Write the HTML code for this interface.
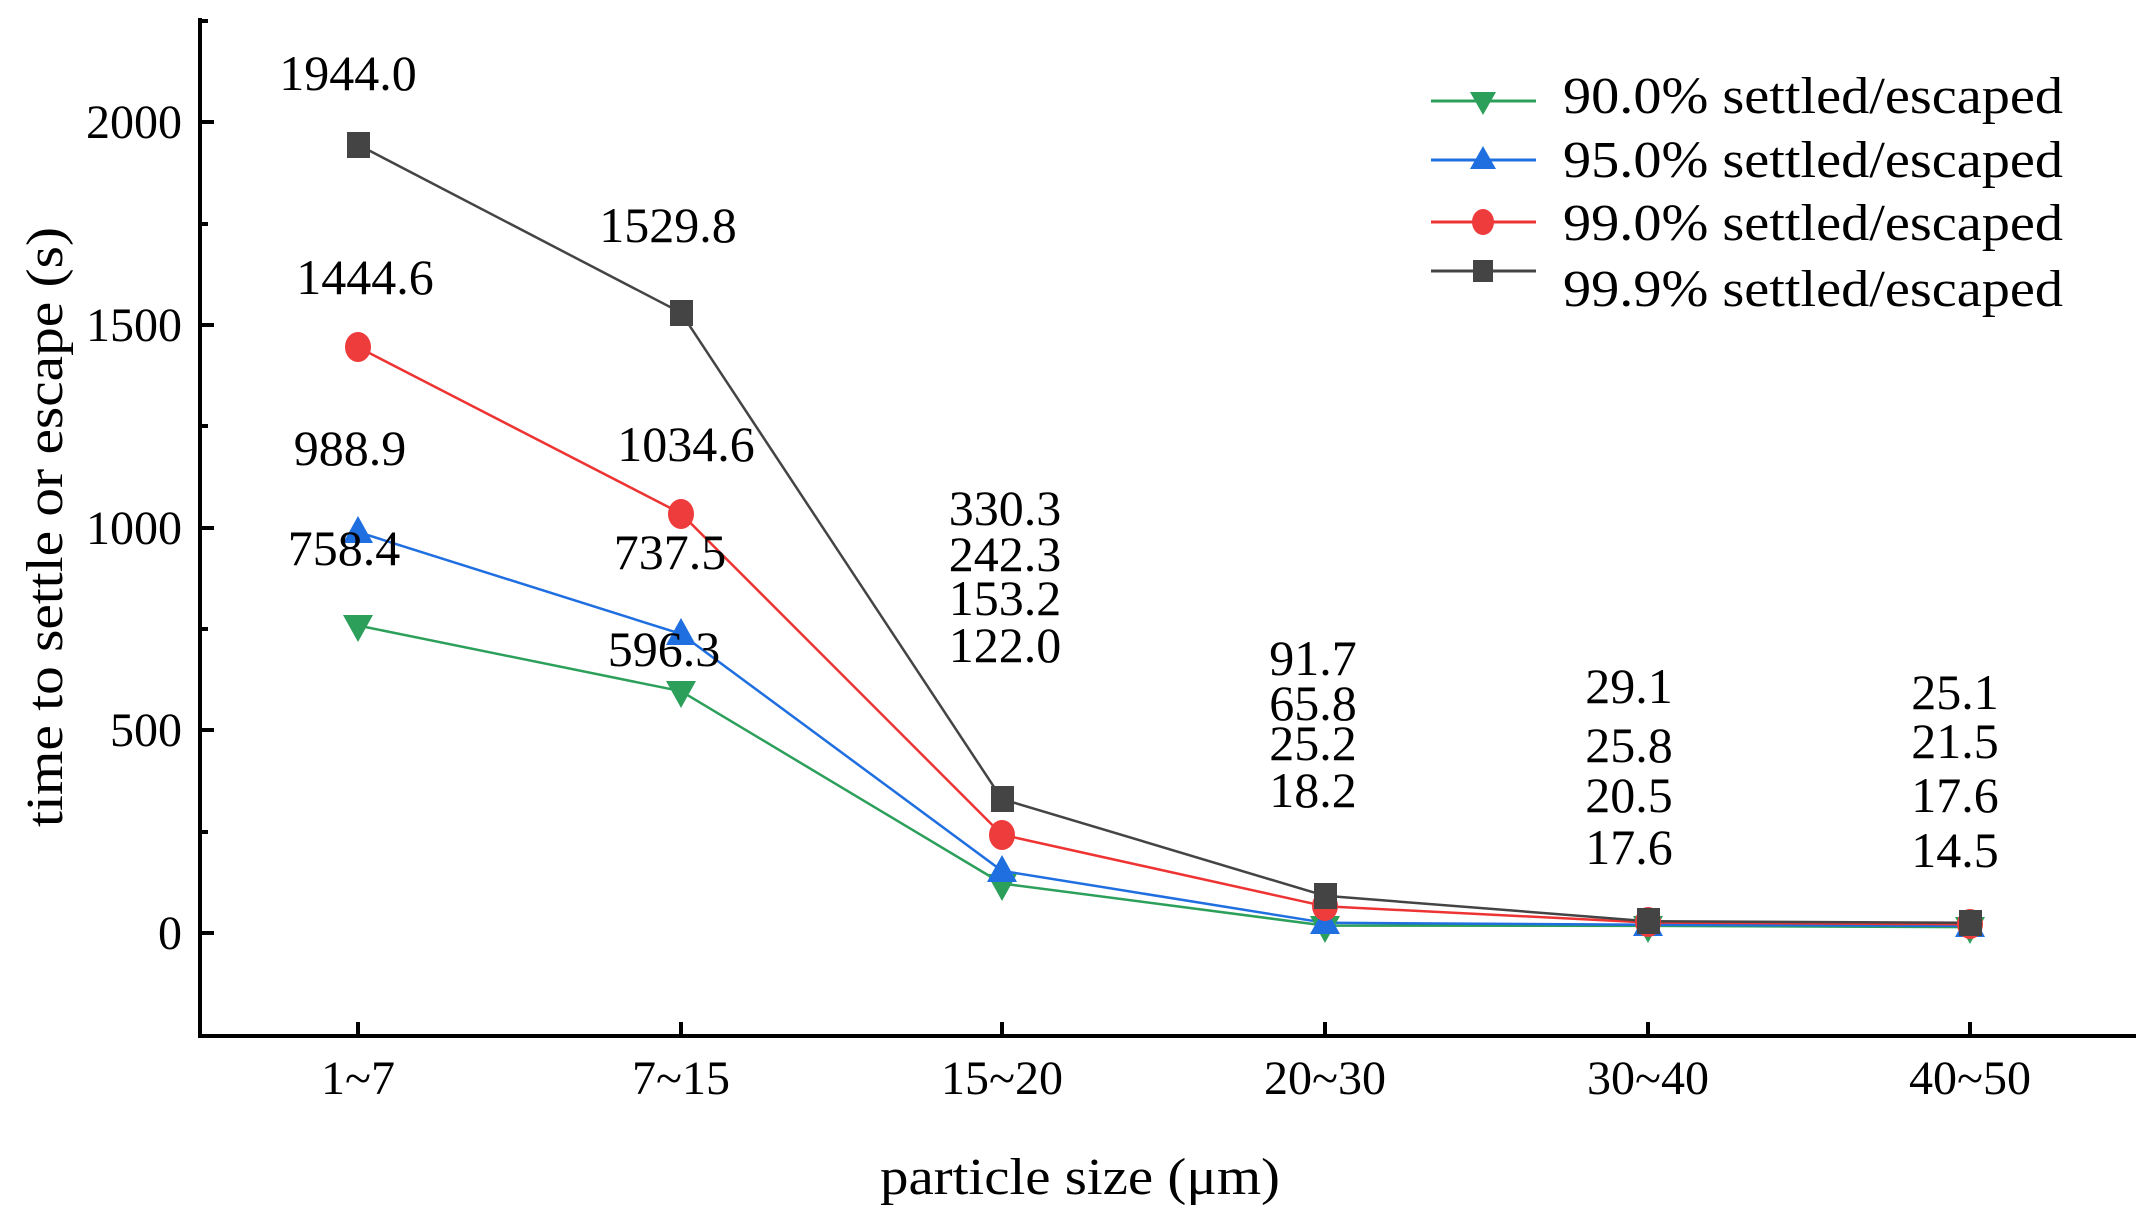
<!DOCTYPE html>
<html><head><meta charset="utf-8"><style>
html,body{margin:0;padding:0;background:#fff;}
svg{display:block;font-family:"Liberation Serif",serif;}
</style></head><body>
<svg width="2136" height="1216" viewBox="0 0 2136 1216" xmlns="http://www.w3.org/2000/svg">
<line x1="200" y1="18" x2="200" y2="1036" stroke="#000" stroke-width="4"/>
<line x1="198" y1="1036" x2="2136" y2="1036" stroke="#000" stroke-width="4"/>
<g stroke="#000" stroke-width="4">
<line x1="200" y1="933" x2="214" y2="933"/>
<line x1="200" y1="730" x2="214" y2="730"/>
<line x1="200" y1="528" x2="214" y2="528"/>
<line x1="200" y1="325" x2="214" y2="325"/>
<line x1="200" y1="122" x2="214" y2="122"/>
<line x1="200" y1="832" x2="208" y2="832"/>
<line x1="200" y1="629" x2="208" y2="629"/>
<line x1="200" y1="426" x2="208" y2="426"/>
<line x1="200" y1="224" x2="208" y2="224"/>
<line x1="200" y1="21" x2="208" y2="21"/>
</g>
<g stroke="#000" stroke-width="4">
<line x1="358" y1="1036" x2="358" y2="1022"/>
<line x1="681" y1="1036" x2="681" y2="1022"/>
<line x1="1002" y1="1036" x2="1002" y2="1022"/>
<line x1="1325" y1="1036" x2="1325" y2="1022"/>
<line x1="1648" y1="1036" x2="1648" y2="1022"/>
<line x1="1970" y1="1036" x2="1970" y2="1022"/>
</g>
<g font-size="48" text-anchor="end" fill="#000">
<text x="182" y="949">0</text>
<text x="182" y="746">500</text>
<text x="182" y="544">1000</text>
<text x="182" y="341">1500</text>
<text x="182" y="138">2000</text>
</g>
<g font-size="48" text-anchor="middle" fill="#000">
<text x="358" y="1094">1~7</text>
<text x="681" y="1094">7~15</text>
<text x="1002" y="1094">15~20</text>
<text x="1325" y="1094">20~30</text>
<text x="1648" y="1094">30~40</text>
<text x="1970" y="1094">40~50</text>
</g>
<text x="1080" y="1194" font-size="52" text-anchor="middle" textLength="400" lengthAdjust="spacingAndGlyphs">particle size (μm)</text>
<text transform="translate(62,527) rotate(-90)" font-size="52" text-anchor="middle" textLength="600" lengthAdjust="spacingAndGlyphs">time to settle or escape (s)</text>

<polyline fill="none" stroke="#2ca05a" stroke-width="2.5" points="358,625.5 681,691.2 1002,883.5 1325,925.6 1648,925.9 1970,927.1"/>
<polyline fill="none" stroke="#1f6fe0" stroke-width="2.5" points="358,532.0 681,633.9 1002,870.9 1325,922.8 1648,924.7 1970,925.9"/>
<polyline fill="none" stroke="#ee3333" stroke-width="2.5" points="358,347.2 681,513.5 1002,834.7 1325,906.3 1648,922.5 1970,924.3"/>
<polyline fill="none" stroke="#444" stroke-width="2.5" points="358,144.7 681,312.7 1002,799.1 1325,895.8 1648,921.2 1970,922.8"/>
<g fill="#2ca05a">
<polygon points="343,615 373,615 358,642"/>
<polygon points="666,681 696,681 681,708"/>
<polygon points="987,874 1017,874 1002,901"/>
<polygon points="1310,916 1340,916 1325,943"/>
<polygon points="1633,916 1663,916 1648,943"/>
<polygon points="1955,917 1985,917 1970,944"/>
</g>
<g fill="#1f6fe0">
<polygon points="343,543 373,543 358,516"/>
<polygon points="666,645 696,645 681,618"/>
<polygon points="987,882 1017,882 1002,855"/>
<polygon points="1310,934 1340,934 1325,907"/>
<polygon points="1633,936 1663,936 1648,909"/>
<polygon points="1955,937 1985,937 1970,910"/>
</g>
<g fill="#ee3b3b">
<ellipse cx="358" cy="347" rx="13" ry="15"/>
<ellipse cx="681" cy="514" rx="13" ry="15"/>
<ellipse cx="1002" cy="835" rx="13" ry="15"/>
<ellipse cx="1325" cy="906" rx="13" ry="15"/>
<ellipse cx="1648" cy="922" rx="13" ry="15"/>
<ellipse cx="1970" cy="924" rx="13" ry="15"/>
</g>
<g fill="#444">
<rect x="347" y="132" width="23" height="26"/>
<rect x="670" y="300" width="23" height="26"/>
<rect x="991" y="786" width="23" height="26"/>
<rect x="1314" y="883" width="23" height="26"/>
<rect x="1637" y="908" width="23" height="26"/>
<rect x="1959" y="910" width="23" height="26"/>
</g>

<g font-size="50" text-anchor="middle" fill="#000">
<text x="348" y="90">1944.0</text>
<text x="365" y="294">1444.6</text>
<text x="350" y="465">988.9</text>
<text x="344" y="565">758.4</text>
<text x="668" y="242">1529.8</text>
<text x="686" y="461">1034.6</text>
<text x="670" y="569">737.5</text>
<text x="664" y="666">596.3</text>
<text x="1005" y="525">330.3</text>
<text x="1005" y="571">242.3</text>
<text x="1005" y="615">153.2</text>
<text x="1005" y="662">122.0</text>
<text x="1313" y="675">91.7</text>
<text x="1313" y="720">65.8</text>
<text x="1313" y="760">25.2</text>
<text x="1313" y="807">18.2</text>
<text x="1629" y="703">29.1</text>
<text x="1629" y="762">25.8</text>
<text x="1629" y="812">20.5</text>
<text x="1629" y="864">17.6</text>
<text x="1955" y="709">25.1</text>
<text x="1955" y="758">21.5</text>
<text x="1955" y="812">17.6</text>
<text x="1955" y="867">14.5</text>
</g>

<line x1="1431" y1="101" x2="1536" y2="101" stroke="#2ca05a" stroke-width="3"/>
<polygon points="1470,92 1496,92 1483,115" fill="#2ca05a"/>
<line x1="1431" y1="160" x2="1536" y2="160" stroke="#1f6fe0" stroke-width="3"/>
<polygon points="1470,169 1496,169 1483,146" fill="#1f6fe0"/>
<line x1="1431" y1="222" x2="1536" y2="222" stroke="#ee3333" stroke-width="3"/>
<ellipse cx="1483" cy="222" rx="11" ry="13" fill="#ee3b3b"/>
<line x1="1431" y1="271" x2="1536" y2="271" stroke="#444" stroke-width="3"/>
<rect x="1473" y="260" width="20" height="22" fill="#444"/>
<g font-size="52" fill="#000">
<text x="1563" y="113" textLength="500" lengthAdjust="spacingAndGlyphs">90.0% settled/escaped</text>
<text x="1563" y="177" textLength="500" lengthAdjust="spacingAndGlyphs">95.0% settled/escaped</text>
<text x="1563" y="240" textLength="500" lengthAdjust="spacingAndGlyphs">99.0% settled/escaped</text>
<text x="1563" y="306" textLength="500" lengthAdjust="spacingAndGlyphs">99.9% settled/escaped</text>
</g>
</svg>
</body></html>
